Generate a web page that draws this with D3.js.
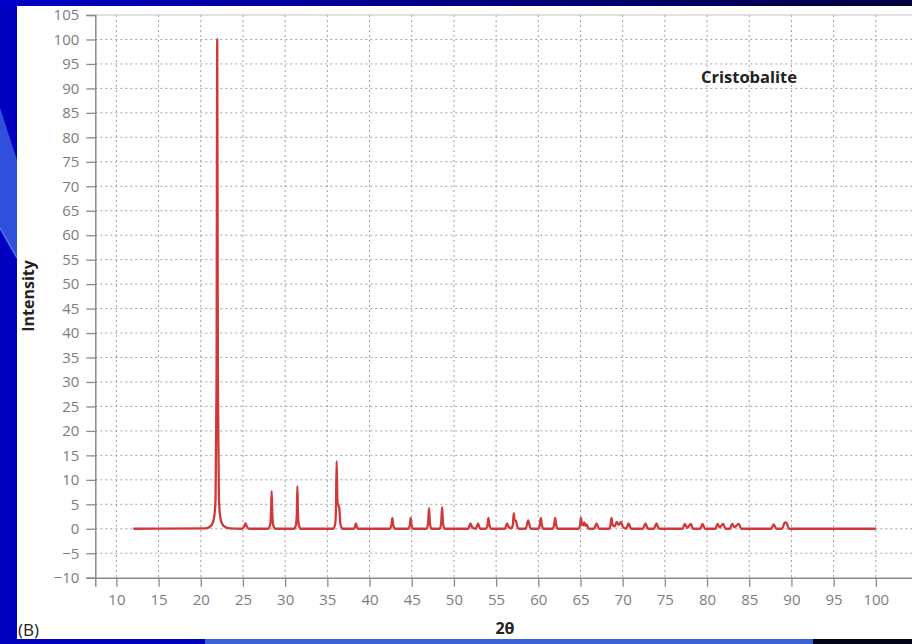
<!DOCTYPE html>
<html>
<head>
<meta charset="utf-8">
<script src="https://cdn.jsdelivr.net/npm/d3@7"></script>
<style>
  body { margin: 0; background: #0000c0; }
  svg { display: block; }
</style>
</head>
<body>
<svg id="canvas"></svg>
<script>
// 2-theta / intensity pairs
const scan = [
  [12, 0], [20.6, 0.1], [21.2, 0.6], [21.55, 2], [21.75, 6], [21.87, 30], [21.95, 100],
  [22.03, 30], [22.15, 6], [22.35, 2], [22.7, 0.6], [23.4, 0.1], [24.9, 0],
  [25.15, 0.5], [25.3, 1.1], [25.45, 0.5], [25.7, 0],
  [28.0, 0], [28.22, 0.8], [28.32, 3], [28.4, 7.7], [28.48, 3], [28.58, 0.8], [28.8, 0],
  [31.05, 0], [31.28, 0.8], [31.38, 3], [31.45, 8.7], [31.52, 3], [31.62, 0.8], [31.85, 0],
  [35.7, 0], [35.93, 1], [36.02, 4], [36.1, 13.8], [36.2, 5.5], [36.32, 4.8], [36.42, 4.2],
  [36.55, 1], [36.8, 0],
  [38.1, 0], [38.3, 0.6], [38.38, 1.1], [38.46, 0.6], [38.65, 0],
  [42.4, 0], [42.6, 0.8], [42.7, 2.2], [42.8, 0.8], [43.0, 0],
  [44.6, 0], [44.78, 0.8], [44.88, 2.2], [44.98, 0.8], [45.15, 0],
  [46.75, 0], [46.93, 1], [47.05, 4.2], [47.17, 1], [47.35, 0],
  [48.3, 0], [48.48, 1], [48.6, 4.4], [48.72, 1], [48.9, 0],
  [51.7, 0], [51.96, 1.1], [52.2, 0.2],
  [52.6, 0], [52.86, 1.1], [53.1, 0],
  [53.8, 0], [53.98, 0.8], [54.09, 2.2], [54.2, 0.8], [54.4, 0],
  [56.05, 0], [56.3, 1.1], [56.5, 0.3],
  [56.85, 0.1], [57.0, 1], [57.09, 3.2], [57.2, 1.8], [57.35, 1.6], [57.5, 0.5], [57.7, 0],
  [58.5, 0], [58.8, 1.7], [59.1, 0],
  [60.0, 0], [60.18, 0.8], [60.3, 2.2], [60.42, 0.8], [60.6, 0],
  [61.7, 0], [61.88, 0.8], [62.0, 2.2], [62.12, 0.8], [62.3, 0],
  [64.8, 0], [64.95, 0.8], [65.05, 2.2], [65.18, 0.9], [65.3, 0.7], [65.45, 1.3],
  [65.6, 0.6], [65.75, 0.9], [65.95, 0],
  [66.6, 0], [66.9, 1.1], [67.2, 0],
  [68.4, 0], [68.56, 0.8], [68.67, 2.2], [68.8, 0.8], [69.05, 0.5], [69.3, 1.4],
  [69.55, 0.8], [69.8, 1.4], [70.05, 0.3],
  [70.4, 0], [70.7, 1.1], [71.0, 0],
  [72.4, 0], [72.7, 1.1], [73.0, 0],
  [73.7, 0], [74.0, 1.1], [74.3, 0],
  [77.1, 0], [77.36, 1], [77.65, 0.2], [78.07, 1], [78.35, 0],
  [79.2, 0], [79.46, 1], [79.75, 0],
  [81.0, 0], [81.24, 1], [81.5, 0.3], [81.9, 1], [82.2, 0],
  [82.7, 0], [82.97, 1], [83.25, 0.3], [83.76, 1], [84.05, 0],
  [87.6, 0], [87.9, 0.9], [88.2, 0],
  [88.9, 0], [89.15, 1.1], [89.29, 1.3], [89.45, 1.1], [89.7, 0],
  [100, 0]
];

const xTicks = d3.range(10, 101, 5);
const yTicks = d3.range(-10, 106, 5);
const xGrid = d3.range(10, 106, 5);
const yGrid = d3.range(-5, 101, 5);

const W = 912, H = 644;
const svg = d3.select("#canvas").attr("width", W).attr("height", H);

// slide background bits
const defs = svg.append("defs");
const grad = defs.append("linearGradient").attr("id", "topbar");
grad.append("stop").attr("offset", "0%").attr("stop-color", "#0000c8");
grad.append("stop").attr("offset", "100%").attr("stop-color", "#000040");
svg.append("rect").attr("width", W).attr("height", H).attr("fill", "#0000c0");
svg.append("rect").attr("width", W).attr("height", 7).attr("fill", "url(#topbar)");
svg.append("polygon").attr("points", "0,108 17,160 17,258 0,228").attr("fill", "#3050dc");
svg.append("line").attr("x1", 0).attr("y1", 228).attr("x2", 17).attr("y2", 258)
  .attr("stroke", "#4a7af0").attr("stroke-width", 1.5);
svg.append("rect").attr("x", 205).attr("y", 639).attr("width", 608).attr("height", 5).attr("fill", "#3a62d6");
svg.append("rect").attr("x", 813).attr("y", 639).attr("width", 99).attr("height", 5).attr("fill", "#05051a");
svg.append("rect").attr("x", 17).attr("y", 6).attr("width", W - 17).attr("height", 633).attr("fill", "#fff");

const x = d3.scaleLinear().domain([7.5, 105]).range([95.3, 918]);
const y = d3.scaleLinear().domain([-10, 105]).range([577.7, 15]);

const g = svg.append("g");

// dotted grid
g.selectAll(".vg").data(xGrid).enter().append("line")
  .attr("x1", d => x(d)).attr("x2", d => x(d))
  .attr("y1", y(105)).attr("y2", y(-10))
  .attr("stroke", "#a0a0a0").attr("stroke-width", 1).attr("stroke-dasharray", "2,3");
g.selectAll(".hg").data(yGrid).enter().append("line")
  .attr("x1", x(7.5)).attr("x2", x(105))
  .attr("y1", d => y(d)).attr("y2", d => y(d))
  .attr("stroke", "#a0a0a0").attr("stroke-width", 1).attr("stroke-dasharray", "2,3");
// top frame
g.append("line").attr("x1", x(7.5)).attr("x2", x(105)).attr("y1", y(105)).attr("y2", y(105))
  .attr("stroke", "#c4c4c4").attr("stroke-width", 1.2);

// axes
const yAxis = g.append("g").attr("transform", `translate(${x(7.5)},0)`)
  .call(d3.axisLeft(y).tickValues(yTicks).tickSize(9).tickPadding(7)
    .tickFormat(d => d < 0 ? "\u2212" + Math.abs(d) : d));
const xAxis = g.append("g").attr("transform", `translate(0,${y(-10)})`)
  .call(d3.axisBottom(x).tickValues(xTicks).tickSize(9).tickPadding(8));
[xAxis, yAxis].forEach(a => {
  a.select(".domain").attr("stroke", "#8a8a8a").attr("stroke-width", 1.5);
  a.selectAll(".tick line").attr("stroke", "#8a8a8a").attr("stroke-width", 1.3);
  a.selectAll(".tick text")
    .style("font-family", "'Open Sans', sans-serif")
    .style("font-size", "15px")
    .attr("fill", "#7d7d7d");
});

// the scan
g.append("path").datum(scan)
  .attr("fill", "none")
  .attr("stroke", "#d0383a")
  .attr("stroke-width", 2.3)
  .attr("stroke-linejoin", "round")
  .attr("d", d3.line().x(d => x(d[0])).y(d => y(d[1])).curve(d3.curveMonotoneX));

// labels
svg.append("text")
  .attr("transform", "translate(34,296) rotate(-90)")
  .attr("text-anchor", "middle")
  .style("font-family", "'Open Sans', sans-serif").style("font-weight", "bold")
  .style("font-size", "16px").attr("fill", "#222")
  .text("Intensity");
svg.append("text")
  .attr("x", 749).attr("y", 83).attr("text-anchor", "middle")
  .style("font-family", "'Open Sans', sans-serif").style("font-weight", "bold")
  .style("font-size", "16.5px").attr("fill", "#222")
  .text("Cristobalite");
svg.append("text")
  .attr("x", 505).attr("y", 634).attr("text-anchor", "middle")
  .style("font-family", "'Open Sans', sans-serif").style("font-weight", "bold")
  .style("font-size", "16px").attr("fill", "#222")
  .text("2\u03b8");
svg.append("text")
  .attr("x", 18).attr("y", 636)
  .style("font-family", "'Open Sans', sans-serif")
  .style("font-size", "17px").attr("fill", "#222")
  .text("(B)");
</script>
</body>
</html>
